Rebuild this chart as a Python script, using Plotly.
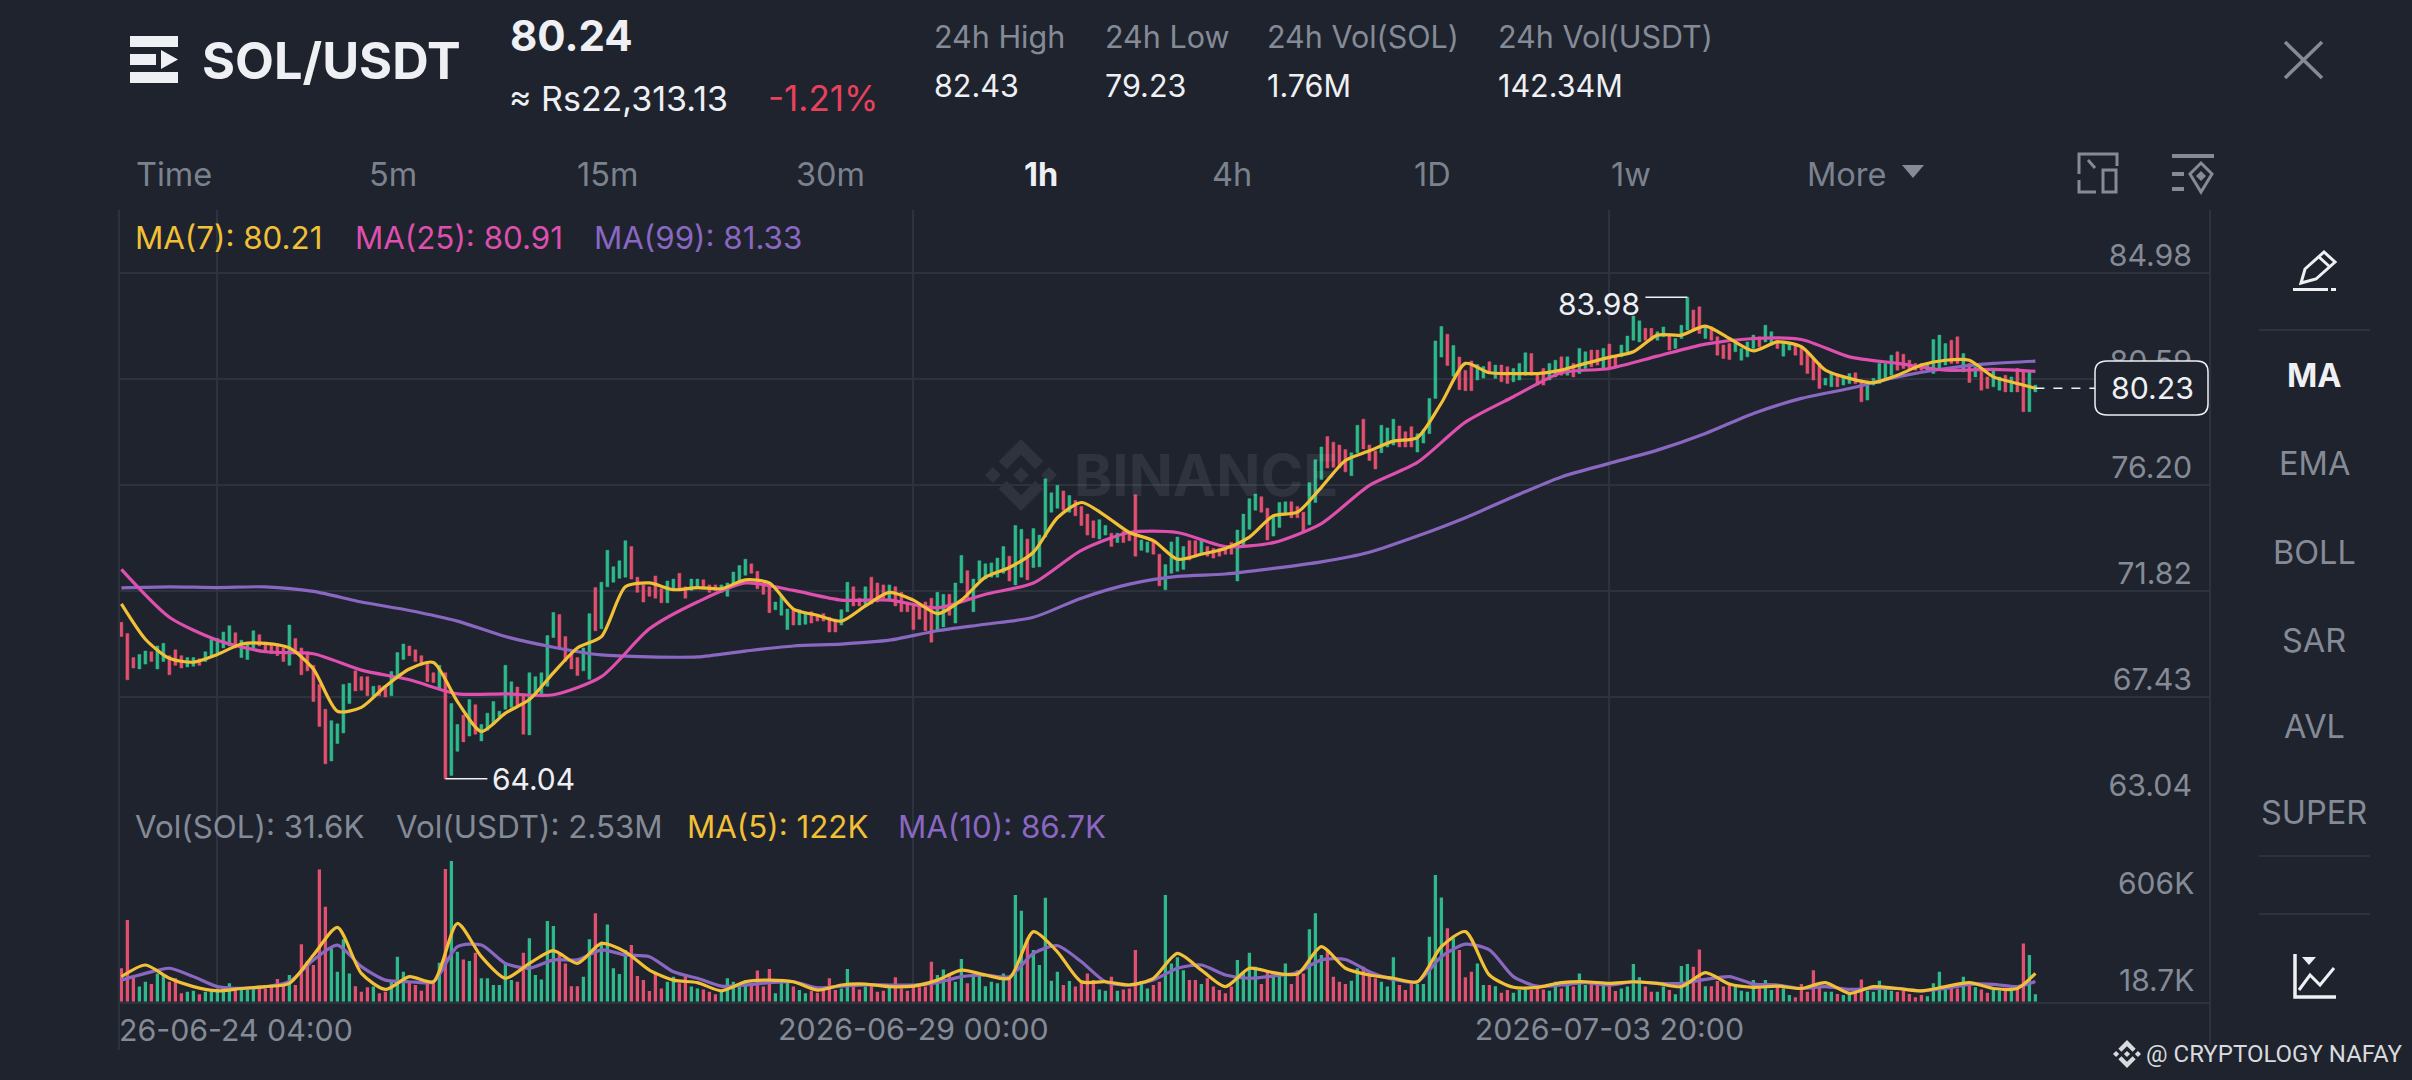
"""SOL/USDT 1h chart screen: candles with MA lines, volume pane and app chrome."""
import pandas as pd
import plotly.graph_objects as go
from plotly.subplots import make_subplots

W, H = 2412, 1080
BG = "#1e232e"
GRID = "#2d333e"
GREY = "#858b96"
DIM = "#7c828d"
WHITE = "#eef0f3"
UP = "#2fb98a"
DOWN = "#e2506f"
YELLOW = "#f2c037"
PINK = "#de4fae"
PURPLE = "#8a68c2"
FONT = "Inter"

# G = up candle, R = down candle, ten per line
candle_dir = (
    "RRRGGRGGRR" "RGGRGGGGGR" "GGGRRRRRGR" "RRRRRGGGGR" "RRGRRGGGRR" "RRRGRGGRGR"
    "GGGGGGRRGG" "GGGRRRRGGR" "GGGGGRRRRR" "RGGRRGGRRR" "GGGGGRRRRG" "GGRGGRRRRR"
    "GGRRGRRRGR" "RRRRRRGGRG" "GRGGGGGGRG" "GRGGGGGRGR" "RRRGGRGRRR" "GGRRGGGGRR"
    "GRRRRRGGGG" "RRGGGRRRGG" "GRRRRGGRRR" "GGGRRRGGGG" "GRGRRRGGRG" "RRGGGRRRGG"
    "RGRGGRRGRR" "GGGGRRGGRG" "GGRRGRRRRG" "GGGRGGRGGR" "RRRRGGRGGR" "RGGGGGRRRR"
    "RGGGGRRGRG" "RRGGRGRRGG"
)

candle_high = [
    70.52, 70.06, 69.06, 69.19, 69.33, 69.30, 69.54, 69.65, 69.14, 69.38,
    69.14, 69.06, 69.06, 69.01, 69.30, 69.81, 69.85, 70.12, 70.38, 70.09,
    69.78, 69.62, 70.17, 70.01, 69.70, 69.62, 69.54, 69.46, 70.41, 69.85,
    69.46, 69.30, 68.74, 67.95, 66.92, 66.45, 66.32, 67.95, 68.00, 68.51,
    68.27, 68.27, 67.87, 67.90, 67.87, 68.48, 69.27, 69.62, 69.54, 69.38,
    69.14, 68.90, 68.43, 68.74, 68.43, 67.16, 66.29, 66.68, 67.32, 67.11,
    66.29, 66.76, 67.24, 66.84, 68.74, 68.06, 67.84, 67.56, 68.43, 68.27,
    68.43, 69.97, 70.93, 70.84, 69.93, 69.22, 69.06, 69.46, 70.88, 71.96,
    72.18, 73.50, 72.82, 73.07, 73.90, 73.66, 72.39, 72.07, 71.99, 72.44,
    71.91, 72.23, 72.31, 72.55, 71.99, 72.31, 72.31, 72.28, 72.07, 72.07,
    72.07, 72.15, 72.60, 72.87, 73.13, 72.94, 72.63, 72.15, 71.99, 71.36,
    71.60, 71.07, 71.04, 71.04, 70.92, 70.96, 70.81, 70.88, 70.73, 70.65,
    71.04, 72.18, 71.99, 71.52, 71.99, 72.39, 72.15, 72.07, 72.07, 71.99,
    71.76, 71.36, 71.20, 71.20, 71.36, 71.52, 71.76, 71.68, 71.68, 72.15,
    73.29, 72.66, 72.31, 73.07, 72.94, 72.98, 73.18, 73.66, 73.26, 74.53,
    74.37, 73.97, 74.40, 74.13, 76.46, 75.88, 76.19, 75.96, 75.77, 75.56,
    75.32, 75.00, 74.72, 74.77, 74.53, 74.21, 74.21, 74.29, 74.21, 75.80,
    73.93, 73.85, 73.90, 73.34, 72.91, 73.85, 74.05, 73.66, 73.90, 73.90,
    73.90, 73.66, 73.58, 73.58, 73.66, 73.82, 74.34, 75.00, 75.64, 75.83,
    75.72, 75.24, 74.93, 75.48, 75.51, 75.51, 75.32, 75.08, 76.30, 77.25,
    77.78, 78.21, 77.98, 77.86, 77.67, 77.54, 78.68, 78.93, 77.86, 77.62,
    78.68, 78.57, 78.93, 78.65, 78.41, 78.62, 78.33, 78.49, 79.79, 82.17,
    82.77, 82.45, 81.98, 81.50, 80.95, 81.34, 81.19, 81.11, 81.31, 81.17,
    81.17, 81.10, 81.03, 81.24, 81.68, 81.65, 80.82, 81.03, 81.24, 81.37,
    81.51, 81.51, 81.24, 81.86, 81.72, 81.79, 81.79, 81.86, 82.04, 81.51,
    82.00, 82.37, 83.20, 83.00, 82.69, 82.69, 82.55, 82.75, 82.41, 82.27,
    82.82, 83.98, 83.45, 83.58, 82.75, 82.75, 82.34, 82.00, 82.06, 82.20,
    81.86, 82.13, 82.41, 82.34, 82.82, 82.55, 82.20, 82.13, 82.13, 82.06,
    81.93, 81.72, 81.44, 81.24, 80.62, 80.82, 80.75, 80.68, 80.82, 80.85,
    80.55, 80.48, 80.62, 81.24, 81.24, 81.58, 81.72, 81.62, 81.37, 81.24,
    81.24, 81.24, 82.23, 82.41, 82.06, 82.20, 82.34, 81.65, 81.24, 81.10,
    80.96, 80.68, 80.96, 80.68, 80.75, 80.68, 81.03, 80.96, 80.89, 80.34,
]

candle_low = [
    69.93, 68.14, 68.63, 68.59, 68.79, 68.90, 68.59, 68.90, 68.35, 68.74,
    68.63, 68.67, 68.70, 68.74, 68.90, 69.14, 69.22, 69.46, 69.54, 69.46,
    69.06, 68.98, 69.46, 69.54, 69.30, 69.22, 69.14, 68.90, 68.74, 69.30,
    68.35, 68.51, 67.24, 66.21, 64.66, 64.78, 65.50, 65.94, 67.16, 67.68,
    67.71, 67.48, 67.40, 67.48, 67.43, 67.48, 68.19, 68.98, 69.14, 68.90,
    68.74, 68.06, 68.03, 67.79, 64.04, 64.18, 65.18, 65.57, 65.81, 65.89,
    65.61, 66.05, 66.29, 66.61, 66.92, 67.00, 67.08, 65.89, 65.86, 67.48,
    67.56, 67.87, 69.89, 69.46, 68.90, 68.59, 68.32, 68.51, 68.16, 70.17,
    70.25, 71.99, 72.18, 72.34, 72.39, 72.31, 71.76, 71.36, 71.60, 71.52,
    71.33, 71.33, 71.84, 71.84, 71.52, 71.84, 71.91, 71.91, 71.76, 71.84,
    71.76, 71.60, 72.07, 72.15, 72.47, 72.55, 71.91, 71.68, 70.92, 71.04,
    70.81, 70.22, 70.41, 70.41, 70.44, 70.49, 70.57, 70.57, 70.12, 70.12,
    70.41, 70.96, 71.20, 71.20, 71.20, 71.28, 71.36, 71.52, 71.44, 71.20,
    70.96, 70.96, 70.22, 70.65, 70.17, 69.70, 70.17, 70.33, 70.81, 70.49,
    72.15, 71.52, 70.96, 72.23, 72.31, 72.39, 72.39, 72.55, 72.23, 72.07,
    72.39, 72.28, 72.79, 72.82, 74.05, 75.08, 75.24, 75.16, 75.08, 74.93,
    74.53, 74.13, 74.02, 73.97, 74.13, 73.66, 73.82, 73.82, 73.90, 73.26,
    73.50, 73.42, 73.34, 72.03, 71.87, 72.55, 72.63, 72.71, 73.10, 73.26,
    73.34, 73.26, 73.18, 73.26, 73.34, 73.34, 72.23, 73.66, 74.37, 75.16,
    75.08, 73.93, 74.09, 74.45, 75.00, 74.85, 74.85, 74.24, 74.56, 75.48,
    76.43, 76.91, 76.94, 76.91, 76.75, 76.59, 77.54, 77.70, 77.22, 76.87,
    77.54, 77.78, 77.86, 77.78, 77.78, 77.78, 77.57, 77.94, 78.33, 79.79,
    81.50, 81.15, 80.71, 80.15, 80.11, 80.11, 80.55, 80.63, 80.87, 80.62,
    80.48, 80.41, 80.48, 80.55, 80.75, 80.75, 80.34, 80.34, 80.55, 80.68,
    80.75, 80.75, 80.68, 80.82, 81.03, 81.10, 81.17, 81.03, 81.03, 81.10,
    81.51, 81.72, 82.20, 82.13, 82.20, 82.20, 82.20, 82.34, 81.79, 81.86,
    82.27, 82.62, 82.62, 82.48, 82.27, 82.20, 81.58, 81.44, 81.40, 81.72,
    81.37, 81.51, 81.86, 81.93, 82.13, 82.00, 81.86, 81.54, 81.79, 81.58,
    81.17, 80.82, 80.55, 80.20, 80.34, 80.27, 80.27, 80.34, 80.41, 80.41,
    79.65, 79.72, 80.34, 80.41, 80.62, 80.75, 80.96, 81.03, 80.96, 80.96,
    80.96, 80.96, 80.82, 80.96, 81.17, 81.24, 81.24, 80.89, 80.45, 80.68,
    80.13, 80.20, 80.27, 80.13, 80.06, 80.06, 80.06, 79.24, 79.24, 80.06,
]

# thousands of SOL per hour
volume_k = [
    144, 352, 115, 65, 86, 76, 122, 115, 86, 101,
    36, 43, 47, 32, 43, 50, 57, 57, 79, 62,
    57, 57, 57, 57, 57, 65, 98, 72, 115, 72,
    248, 175, 158, 570, 409, 230, 129, 269, 122, 67,
    43, 62, 65, 36, 43, 93, 194, 129, 86, 72,
    47, 79, 86, 168, 572, 606, 215, 182, 175, 211,
    101, 101, 72, 72, 165, 93, 86, 211, 273, 115,
    96, 348, 326, 208, 165, 67, 67, 108, 269, 381,
    258, 333, 144, 119, 223, 244, 111, 93, 46, 122,
    57, 86, 108, 79, 119, 65, 57, 53, 43, 32,
    43, 101, 86, 72, 93, 72, 134, 65, 141, 36,
    86, 86, 65, 50, 36, 47, 39, 50, 101, 50,
    57, 141, 65, 53, 65, 72, 43, 47, 65, 105,
    57, 47, 72, 62, 65, 172, 115, 139, 122, 86,
    184, 79, 108, 115, 67, 86, 79, 122, 101, 460,
    392, 273, 223, 158, 448, 90, 129, 72, 89, 65,
    86, 122, 93, 53, 47, 108, 47, 53, 57, 223,
    89, 57, 72, 86, 460, 165, 191, 136, 93, 93,
    76, 101, 65, 50, 36, 65, 180, 129, 211, 151,
    76, 129, 115, 115, 165, 76, 136, 122, 312, 381,
    201, 225, 108, 86, 76, 90, 144, 151, 122, 101,
    86, 65, 191, 72, 50, 86, 76, 76, 280, 546,
    449, 316, 273, 223, 105, 129, 165, 72, 72, 67,
    39, 50, 39, 50, 57, 50, 57, 53, 47, 86,
    57, 79, 65, 122, 72, 79, 86, 79, 72, 46,
    57, 65, 162, 105, 65, 43, 43, 65, 50, 32,
    154, 162, 151, 225, 67, 67, 89, 65, 72, 65,
    47, 43, 93, 57, 93, 50, 72, 57, 29, 19,
    76, 43, 136, 65, 43, 43, 33, 29, 32, 43,
    96, 47, 43, 90, 50, 47, 43, 47, 33, 19,
    29, 24, 79, 129, 50, 57, 57, 108, 72, 62,
    53, 39, 50, 47, 50, 47, 57, 251, 201, 31.6,
]

# MA(7) and the volume MAs read every 4th candle, plus the last one
ma7 = [
    71.28, 69.82, 69.03, 68.87, 69.19, 69.62, 69.65, 69.46, 68.59, 66.84,
    67.00, 67.87, 68.59, 68.86, 67.24, 66.00, 66.76, 67.32, 68.43, 69.46,
    69.93, 71.99, 72.15, 71.87, 71.96, 71.91, 72.28, 72.15, 71.07, 70.81,
    70.57, 71.20, 71.76, 71.44, 70.88, 71.44, 72.39, 72.79, 73.42, 74.85,
    75.48, 74.93, 74.24, 73.90, 73.13, 73.34, 73.58, 74.05, 74.93, 75.08,
    76.11, 77.22, 77.62, 78.02, 78.17, 79.60, 81.24, 80.85, 80.82, 80.82,
    80.96, 81.24, 81.49, 81.72, 82.41, 82.41, 82.78, 82.27, 81.76, 82.13,
    81.93, 80.96, 80.62, 80.44, 80.75, 81.17, 81.37, 81.37, 80.68, 80.41,
    80.21,
]
vol_ma5 = [
    108, 158, 101, 65, 47, 57, 65, 79, 201, 320, 122, 53, 108, 86, 337, 194,
    101, 165, 220, 165, 251, 215, 136, 93, 82, 47, 86, 93, 86, 50, 72, 76, 65,
    67, 93, 136, 115, 101, 302, 215, 86, 86, 72, 101, 208, 136, 65, 144, 125,
    119, 237, 144, 115, 101, 86, 237, 302, 115, 62, 62, 82, 86, 79, 86, 79, 65,
    125, 76, 62, 67, 57, 82, 36, 65, 57, 47, 65, 82, 57, 57, 122,
]
vol_ma10 = [
    93, 122, 144, 108, 65, 57, 65, 86, 180, 244, 151, 93, 86, 86, 237, 244,
    165, 144, 180, 180, 223, 201, 194, 129, 101, 67, 72, 82, 86, 60, 67, 72, 72,
    72, 82, 108, 115, 108, 208, 241, 172, 86, 72, 93, 144, 158, 115, 101, 111,
    126, 180, 182, 129, 96, 86, 194, 248, 223, 108, 67, 72, 82, 72, 86, 79, 79,
    96, 108, 76, 72, 57, 65, 53, 57, 57, 47, 57, 75, 75, 65, 86.7,
]

# MA(25) and MA(99) read every 8th candle, plus the last one
ma25 = [
    72.71, 70.73, 69.78, 69.30, 69.22, 68.54, 68.14, 67.56, 67.56, 67.52,
    68.27, 70.25, 71.36, 72.15, 71.84, 71.44, 71.44, 71.12, 71.68, 72.15,
    73.50, 74.24, 74.24, 73.66, 73.82, 74.61, 76.19, 77.14, 78.81, 79.86,
    80.85, 81.03, 81.54, 82.04, 82.27, 82.23, 81.51, 81.24, 80.96, 80.99,
    80.91,
]
ma99 = [
    71.95, 71.99, 71.96, 71.99, 71.80, 71.36, 71.01, 70.57, 69.93, 69.49,
    69.17, 69.09, 69.09, 69.33, 69.54, 69.62, 69.78, 70.17, 70.44, 70.73,
    71.52, 72.10, 72.42, 72.52, 72.75, 73.02, 73.42, 74.09, 74.85, 75.72,
    76.54, 77.10, 77.65, 78.34, 79.17, 79.79, 80.20, 80.68, 81.03, 81.24,
    81.33,
]

price_ticks = [84.98, 80.59, 76.20, 71.82, 67.43, 63.04]
time_ticks = ["2026-06-24 04:00", "2026-06-29 00:00", "2026-07-03 20:00"]
time_labels = ["", "2026-06-29 00:00", "2026-07-03 20:00"]
timeframes = ["Time", "5m", "15m", "30m", "1h", "4h", "1D", "1w", "More"]
indicators = ["MA", "EMA", "BOLL", "SAR", "AVL", "SUPER"]
stat_heads = ["24h High", "24h Low", "24h Vol(SOL)", "24h Vol(USDT)"]
stat_values = ["82.43", "79.23", "1.76M", "142.34M"]

dates = pd.date_range("2026-06-23 12:00", periods=len(candle_high), freq="h")
is_up = [c == "G" for c in candle_dir]
# bodies and wicks can't be told apart at this scale, so a body spans the whole candle
opens = [lo if up else hi for hi, lo, up in zip(candle_high, candle_low, is_up)]
closes = [hi if up else lo for hi, lo, up in zip(candle_high, candle_low, is_up)]
every4 = list(dates[::4]) + [dates[-1]]
every8 = list(dates[::8]) + [dates[-1]]


def fx(x):
    return x / W


def fy(y):
    return 1 - y / H


def path(points, closed=False):
    body = " L ".join(f"{fx(x):.5f} {fy(y):.5f}" for x, y in points)
    return f"M {body}" + (" Z" if closed else "")


def stroke(points, color=WHITE, width=3, closed=False, layer="above"):
    return dict(type="path", xref="paper", yref="paper", path=path(points, closed),
                line=dict(color=color, width=width), layer=layer)


def solid(points, color=WHITE, layer="above"):
    return dict(type="path", xref="paper", yref="paper", path=path(points, True),
                fillcolor=color, line=dict(width=0), layer=layer)


def box(x0, y0, x1, y1, color=WHITE, layer="above"):
    return solid([(x0, y0), (x1, y0), (x1, y1), (x0, y1)], color, layer)


def diamond(cx, cy, r, color, layer="above"):
    return solid([(cx - r, cy), (cx, cy - r), (cx + r, cy), (cx, cy + r)], color, layer)


def binance_logo(cx, cy, r, color, layer="above"):
    """Centre and side diamonds with the upper and lower chevrons."""
    s = r * 0.22
    top = [(cx - r * 0.62, cy - r * 0.38), (cx, cy - r), (cx + r * 0.62, cy - r * 0.38),
           (cx + r * 0.40, cy - r * 0.16), (cx, cy - r * 0.56), (cx - r * 0.40, cy - r * 0.16)]
    bottom = [(x, 2 * cy - y) for x, y in top]
    return [
        diamond(cx, cy, s, color, layer), diamond(cx - r * 0.78, cy, s, color, layer),
        diamond(cx + r * 0.78, cy, s, color, layer),
        solid(top, color, layer), solid(bottom, color, layer),
    ]


def label(text, x, y, size, color, bold=False, anchor="left", family=FONT):
    return dict(text=f"<b>{text}</b>" if bold else text, x=fx(x), y=fy(y),
                xref="paper", yref="paper", xanchor=anchor, yanchor="middle",
                showarrow=False, font=dict(family=family, size=size, color=color),
                borderpad=0, borderwidth=0)


fig = make_subplots(rows=2, cols=1, shared_xaxes=True, vertical_spacing=0, row_heights=[0.75, 0.25])

fig.add_trace(
    go.Candlestick(
        x=dates, open=opens, high=candle_high, low=candle_low, close=closes,
        increasing=dict(line=dict(color=UP, width=0.5), fillcolor=UP),
        decreasing=dict(line=dict(color=DOWN, width=0.5), fillcolor=DOWN),
        whiskerwidth=0, showlegend=False,
    ),
    row=1, col=1,
)
for xs, ys, color in [(every8, ma99, PURPLE), (every8, ma25, PINK), (every4, ma7, YELLOW)]:
    fig.add_trace(
        go.Scatter(x=xs, y=ys, mode="lines", showlegend=False,
                   line=dict(color=color, width=3.2, shape="spline", smoothing=0.7)),
        row=1, col=1,
    )

fig.add_trace(
    go.Bar(x=dates, y=volume_k, showlegend=False,
           marker=dict(color=[UP if up else DOWN for up in is_up], line=dict(width=0))),
    row=2, col=1,
)
for ys, color in [(vol_ma10, PURPLE), (vol_ma5, YELLOW)]:
    fig.add_trace(
        go.Scatter(x=every4, y=ys, mode="lines", showlegend=False,
                   line=dict(color=color, width=3.2, shape="spline", smoothing=0.7)),
        row=2, col=1,
    )

texts = [
    label("SOL/USDT", 202, 60, 50.5, WHITE, bold=True),
    label("80.24", 510, 36, 42, WHITE, bold=True),
    label("≈ Rs22,313.13", 509, 98, 34, WHITE),
    label("-1.21%", 768, 98, 35, "#e8415c"),
    label("MA(7): 80.21", 135, 238, 31.3, YELLOW),
    label("MA(25): 80.91", 355, 238, 31.3, PINK),
    label("MA(99): 81.33", 594, 238, 31.3, PURPLE),
    label("Vol(SOL): 31.6K", 135, 827, 31.3, GREY),
    label("Vol(USDT): 2.53M", 396, 827, 31.3, GREY),
    label("MA(5): 122K", 687, 827, 31.3, YELLOW),
    label("MA(10): 86.7K", 898, 827, 31.3, PURPLE),
    label("26-06-24 04:00", 119, 1030, 30.3, GREY),
    label("@ CRYPTOLOGY NAFAY", 2146, 1054, 24, "#d8dade", family="Roboto"),
    label("BINANCE", 1206, 475, 58, "rgba(255,255,255,0.075)", bold=True, anchor="center"),
    label("80.23", 2152, 388, 30.3, WHITE, anchor="center"),
    # volume scale labels sit off their values, as in the app
    dict(text="606K", x=fx(2196), y=606, xref="paper", yref="y2", xanchor="right", yanchor="middle",
         yshift=-22, showarrow=False, font=dict(family=FONT, size=30, color=GREY)),
    dict(text="18.7K", x=fx(2196), y=18.7, xref="paper", yref="y2", xanchor="right", yanchor="middle",
         yshift=17, showarrow=False, font=dict(family=FONT, size=30, color=GREY)),
    # extreme price markers
    dict(text="64.04", x=dates[54], y=64.04, xref="x", yref="y", xanchor="left", yanchor="middle",
         xshift=45, showarrow=False, font=dict(family=FONT, size=30, color=WHITE)),
    dict(text="83.98", x=dates[261], y=83.98, xref="x", yref="y", xanchor="right", yanchor="middle",
         xshift=-45, yshift=-7, showarrow=False, font=dict(family=FONT, size=30, color=WHITE)),
]
for head, value, x in zip(stat_heads, stat_values, [934, 1105, 1267, 1498]):
    texts.append(label(head, x, 37, 30.5, GREY))
    texts.append(label(value, x, 86, 30.5, WHITE))
for name, x in zip(timeframes, [174, 393, 607, 830, 1041, 1232, 1432, 1631, 1847]):
    texts.append(label(name, x, 175, 32.5, WHITE if name == "1h" else DIM, bold=name == "1h", anchor="center"))
for name, y in zip(indicators, [376, 464, 552, 640, 726, 812]):
    texts.append(label(name, 2314, y, 32.5, WHITE if name == "MA" else GREY, bold=name == "MA", anchor="center"))

shapes = [
    # frame of the chart area
    stroke([(119, 210), (119, 1050)], GRID, 2),
    stroke([(2210, 210), (2210, 1045)], GRID, 2),
    stroke([(2259, 330), (2370, 330)], GRID, 2),
    stroke([(2259, 856), (2370, 856)], GRID, 2),
    stroke([(2259, 914), (2370, 914)], GRID, 2),
    # leader lines of the extreme prices
    dict(type="line", xref="x", yref="y", x0=dates[54], x1=dates[61], y0=64.04, y1=64.04,
         line=dict(color=WHITE, width=1.5)),
    dict(type="line", xref="x", yref="y", x0=dates[254], x1=dates[261], y0=83.98, y1=83.98,
         line=dict(color=WHITE, width=1.5)),
    # last price line and its rounded box
    dict(type="line", xref="x", yref="y", x0=dates[-1], x1="2026-07-07 18:30", y0=80.21, y1=80.21,
         line=dict(color=WHITE, width=1.5, dash="dash")),
    dict(type="path", xref="paper", yref="paper", fillcolor=BG, line=dict(color=WHITE, width=1.5),
         path=(f"M {fx(2107)} {fy(361)} L {fx(2197)} {fy(361)} Q {fx(2208)} {fy(361)} {fx(2208)} {fy(372)} "
               f"L {fx(2208)} {fy(404)} Q {fx(2208)} {fy(415)} {fx(2197)} {fy(415)} "
               f"L {fx(2107)} {fy(415)} Q {fx(2095)} {fy(415)} {fx(2095)} {fy(404)} "
               f"L {fx(2095)} {fy(372)} Q {fx(2095)} {fy(361)} {fx(2107)} {fy(361)} Z")),
    # menu icon beside the pair name
    box(130, 36, 178, 47), box(130, 72, 178, 83), box(130, 54, 156, 65),
    solid([(161, 50), (178, 59.5), (161, 69)]),
    # close cross
    stroke([(2285, 42), (2322, 78)], GREY, 3.5), stroke([(2322, 42), (2285, 78)], GREY, 3.5),
    # "More" triangle
    solid([(1902, 165), (1924, 165), (1913, 178)], GREY),
    # toolbar icons
    stroke([(2079, 174), (2079, 154), (2117, 154), (2117, 166)], GREY, 3),
    stroke([(2079, 180), (2079, 192), (2096, 192)], GREY, 3),
    stroke([(2103, 170), (2116, 170), (2116, 192), (2103, 192)], GREY, 3, closed=True),
    stroke([(2088, 160), (2095, 168)], GREY, 3),
    box(2172, 154, 2214, 158, GREY), box(2172, 172, 2184, 176, GREY), box(2172, 187, 2184, 191, GREY),
    stroke([(2201, 163), (2212, 174), (2201, 192), (2190, 174)], GREY, 3, closed=True),
    diamond(2201, 176, 5, GREY),
    # pencil
    stroke([(2301, 283), (2305, 269), (2324, 252), (2335, 262), (2316, 279)], WHITE, 3, closed=True),
    stroke([(2319, 257), (2330, 267)], WHITE, 3),
    box(2293, 288, 2328, 291), box(2331, 288, 2336, 291),
    # indicator icon
    stroke([(2295, 954), (2295, 997), (2336, 997)], WHITE, 3.5),
    solid([(2302, 957), (2316, 957), (2309, 965)]),
    stroke([(2299, 990), (2310, 975), (2320, 985), (2334, 968)], WHITE, 3),
]
shapes += binance_logo(1021, 475, 36, "rgba(255,255,255,0.075)", layer="below")
shapes += binance_logo(2127, 1054, 14, "#d8dade")

fig.update_layout(
    width=W, height=H,
    paper_bgcolor=BG, plot_bgcolor=BG,
    margin=dict(l=0, r=0, t=0, b=0),
    showlegend=False,
    bargap=0.45,
    font=dict(family=FONT, size=30, color=GREY),
    annotations=texts,
    shapes=shapes,
    hovermode=False,
)
fig.update_xaxes(
    domain=[fx(119), fx(2210)],
    range=["2026-06-23 11:36", "2026-07-08 00:06"],
    type="date", tickvals=time_ticks, showgrid=True, gridcolor=GRID, gridwidth=1.5,
    zeroline=False, rangeslider=dict(visible=False), ticks="",
)
fig.update_xaxes(showticklabels=False, row=1, col=1)
fig.update_xaxes(ticktext=time_labels, showticklabels=True, showline=True, linecolor=GRID, linewidth=2,
                 tickfont=dict(family=FONT, size=30.3, color=GREY), row=2, col=1)
fig.update_yaxes(
    domain=[fy(803), fy(210)], range=[63.04, 87.59], side="right",
    tickvals=price_ticks, ticktext=[f"{v:.2f}" for v in price_ticks],
    tickfont=dict(family=FONT, size=30.3, color=GREY), ticks="",
    ticklabelposition="inside", ticklabelstandoff=15, ticklabelshift=-18,
    showgrid=True, gridcolor=GRID, gridwidth=2, zeroline=False,
    row=1, col=1,
)
fig.update_yaxes(domain=[fy(1001.7), fy(803)], range=[0, 856], showgrid=False, zeroline=False,
                 showticklabels=False, ticks="", row=2, col=1)

fig.write_html("out.html", config={"displayModeBar": False},
               post_script="document.body.style.margin='0';")
